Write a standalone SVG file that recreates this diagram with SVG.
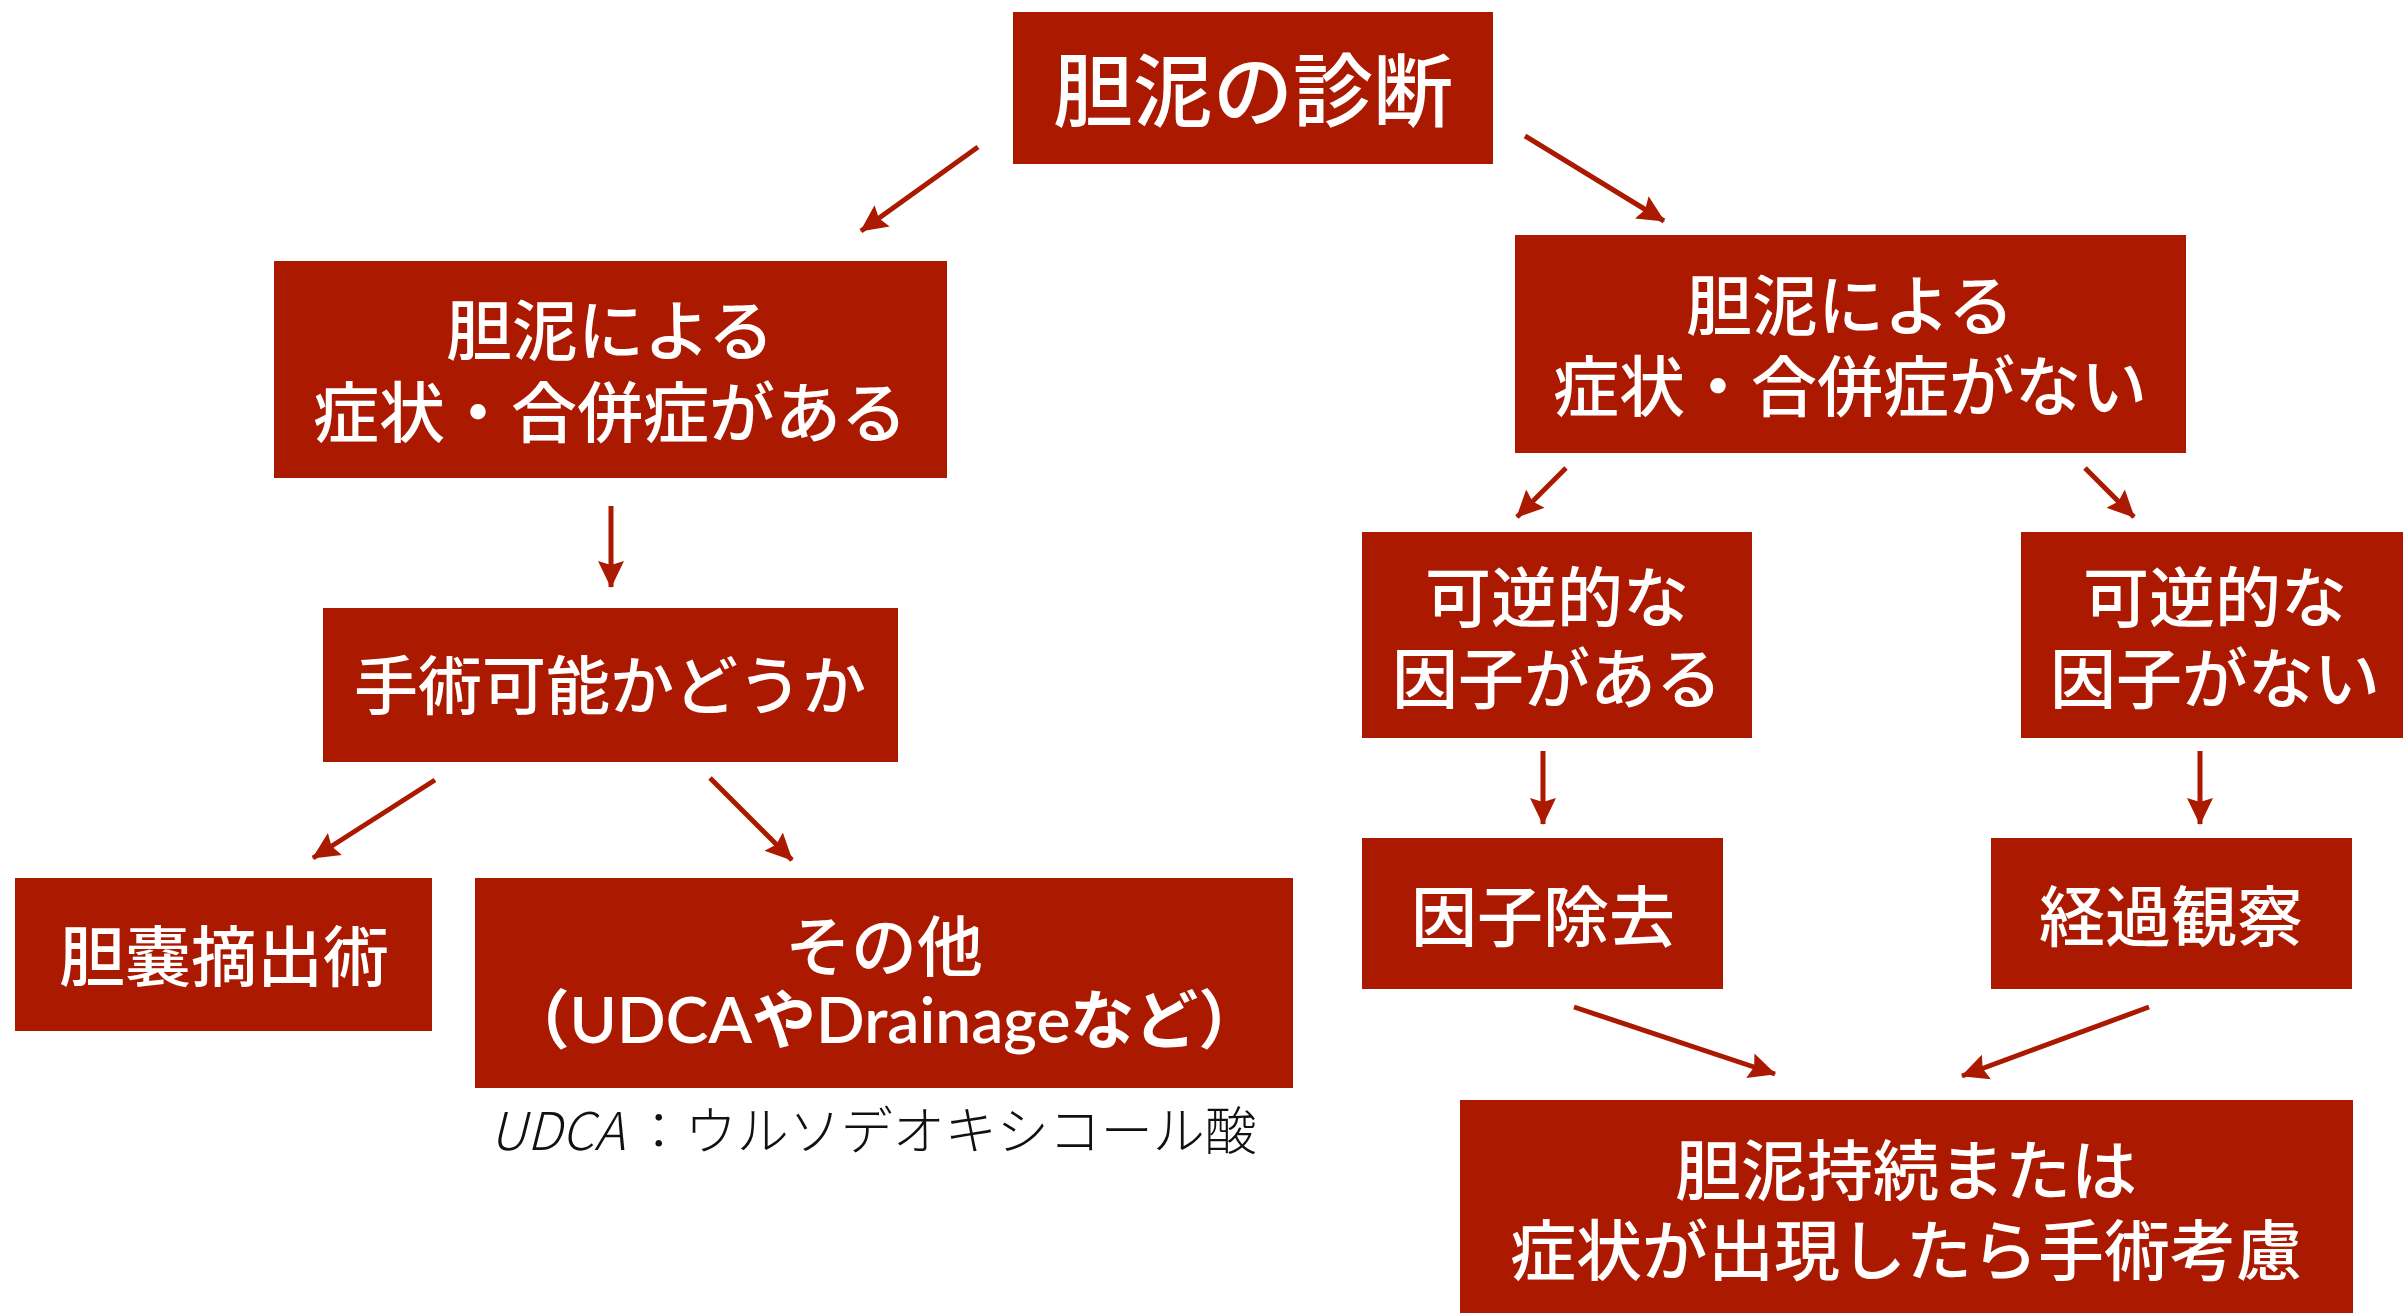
<svg xmlns="http://www.w3.org/2000/svg" width="2403" height="1313" viewBox="0 0 2403 1313">
<style>
.box{fill:#AA1900;}
.t{fill:#ffffff;font-family:"Noto Sans CJK JP","Noto Sans CJK SC",sans-serif;font-weight:500;text-anchor:middle;}
.f80{font-size:80px;}
.f66{font-size:66px;}
.f64{font-size:64px;}
.mix{font-family:"Lato","Noto Sans CJK JP",sans-serif;font-weight:600;}
.note{fill:#111111;font-family:"Noto Sans CJK JP",sans-serif;font-weight:300;font-size:52px;}
.c{stroke:#AA1900;stroke-width:5;fill:none;marker-end:url(#ah);}
</style>
<defs>
<marker id="ah" markerUnits="userSpaceOnUse" markerWidth="28" markerHeight="28" viewBox="0 0 28 28" refX="26" refY="14" orient="auto">
<path d="M0,1 L27,14 L0,27 L4,14 Z" fill="#AA1900"/>
</marker>
</defs>
<rect width="2403" height="1313" fill="#ffffff"/>
<g id="connectors">
<line class="c" x1="978" y1="147" x2="861" y2="231"/>
<line class="c" x1="1525" y1="136" x2="1664" y2="221"/>
<line class="c" x1="611" y1="506" x2="611" y2="587"/>
<line class="c" x1="435" y1="780" x2="313" y2="858"/>
<line class="c" x1="710" y1="778" x2="792" y2="860"/>
<line class="c" x1="1566" y1="468" x2="1517" y2="517"/>
<line class="c" x1="2085" y1="468" x2="2134" y2="517"/>
<line class="c" x1="1543" y1="751" x2="1543" y2="824"/>
<line class="c" x1="2200" y1="751" x2="2200" y2="824"/>
<line class="c" x1="1574" y1="1007" x2="1775" y2="1074"/>
<line class="c" x1="2149" y1="1007" x2="1962" y2="1076"/>
</g>
<g id="n-diagnosis">
<rect class="box" x="1013" y="12" width="480" height="152"/>
<text class="t f80" x="1253" y="120">胆泥の診断</text>
</g>
<g id="n-symptom-yes">
<rect class="box" x="274" y="261" width="673" height="217"/>
<text class="t f66" x="610" y="355">胆泥による</text>
<text class="t f66" x="610" y="437">症状・合併症がある</text>
</g>
<g id="n-symptom-no">
<rect class="box" x="1515" y="235" width="671" height="218"/>
<text class="t f66" x="1850" y="330">胆泥による</text>
<text class="t f66" x="1850" y="411">症状・合併症がない</text>
</g>
<g id="n-operable">
<rect class="box" x="323" y="608" width="575" height="154"/>
<text class="t f64" x="610" y="709">手術可能かどうか</text>
</g>
<g id="n-cholecystectomy">
<rect class="box" x="15" y="878" width="417" height="153"/>
<text class="t f66" x="224" y="981">胆嚢摘出術</text>
</g>
<g id="n-other">
<rect class="box" x="475" y="878" width="818" height="210"/>
<text class="t f66" x="884" y="971">その他</text>
<text class="t f64 mix" x="884" y="1043">（UDCAやDrainageなど）</text>
</g>
<g id="n-reversible-yes">
<rect class="box" x="1362" y="532" width="390" height="206"/>
<text class="t f66" x="1557" y="622">可逆的な</text>
<text class="t f66" x="1557" y="703">因子がある</text>
</g>
<g id="n-reversible-no">
<rect class="box" x="2021" y="532" width="382" height="206"/>
<text class="t f66" x="2215" y="622">可逆的な</text>
<text class="t f66" x="2215" y="703">因子がない</text>
</g>
<g id="n-remove">
<rect class="box" x="1362" y="838" width="361" height="151"/>
<text class="t f66" x="1543" y="941">因子除去</text>
</g>
<g id="n-observe">
<rect class="box" x="1991" y="838" width="361" height="151"/>
<text class="t f66" x="2171" y="941">経過観察</text>
</g>
<g id="n-surgery">
<rect class="box" x="1460" y="1100" width="893" height="213"/>
<text class="t f66" x="1906" y="1195">胆泥持続または</text>
<text class="t f66" x="1906" y="1275">症状が出現したら手術考慮</text>
</g>
<text class="note" x="490" y="1150"><tspan font-style="italic">UDCA</tspan><tspan dx="8">：</tspan>ウルソデオキシコール酸</text>
</svg>
